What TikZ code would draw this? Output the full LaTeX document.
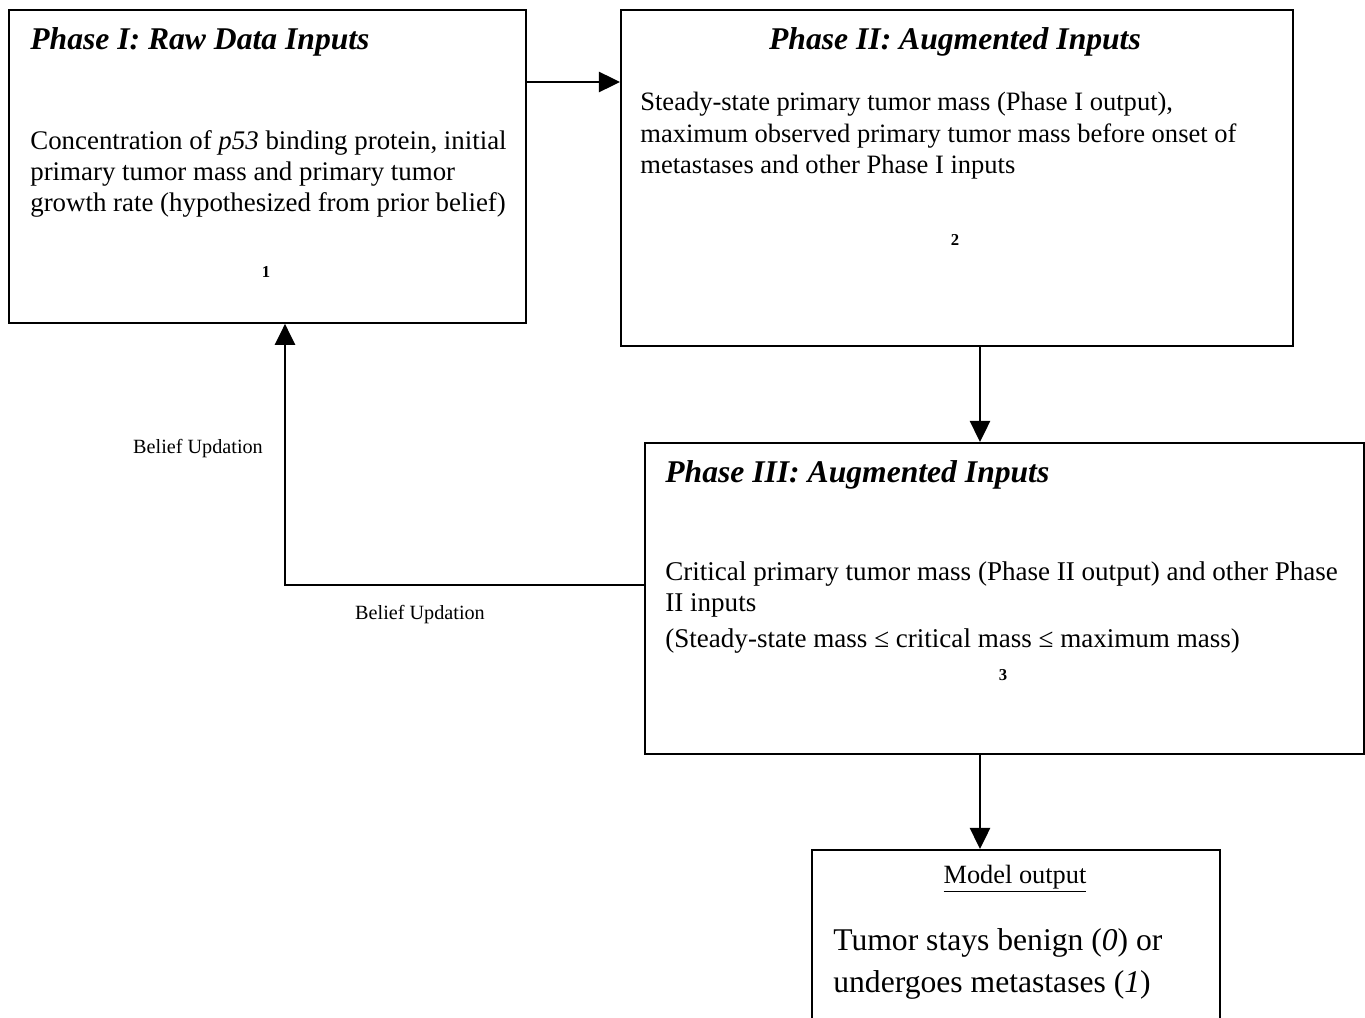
\documentclass[tikz,border=0pt]{standalone}
\usepackage{fontspec}
\setmainfont{Liberation Serif}
\usepackage{tikz}
\usetikzlibrary{calc,arrows.meta,positioning}

\begin{document}
\begin{tikzpicture}[x=0.02cm,y=-0.02cm]

\tikzset{phasebox/.style={draw,line width=1.1pt,anchor=north west,inner sep=0pt,shape=rectangle},
phasetitle/.style={font=\fontsize{18}{21}\selectfont\bfseries\itshape,inner sep=0pt},
phasetext/.style={font=\fontsize{15.3}{17.6}\selectfont,align=left,anchor=north west,inner sep=0pt},
boxnum/.style={font=\fontsize{9.5}{11}\selectfont\bfseries,inner sep=0pt,anchor=base},
beliefnote/.style={font=\fontsize{11.5}{13}\selectfont,inner sep=0pt,anchor=base},
flowarrow/.style={line width=1.1pt,-{Triangle[length=12pt,width=11.5pt]}}}

\useasboundingbox (0,0) rectangle (1365,1017);
\clip (0,0) rectangle (1365,1017);

% Boxes
\node[phasebox,minimum width=10.34cm,minimum height=6.26cm] (phaseI) at (8,9) {};
\node[phasebox,minimum width=13.44cm,minimum height=6.72cm] (phaseII) at (620,9) {};
\node[phasebox,minimum width=14.38cm,minimum height=6.22cm] (phaseIII) at (644,442) {};
\node[phasebox,minimum width=8.16cm,minimum height=4.2cm] (output) at (811,849) {};

% Phase I
\node[phasetitle,anchor=base west] (titleI) at (30,50) {Phase I: Raw Data Inputs};
\node[phasetext] (textI) at (30,130) {Concentration of \textit{p53} binding protein, initial\\primary tumor mass and primary tumor\\growth rate (hypothesized from prior belief)};
\node[boxnum] (numI) at (266,277) {1};

% Phase II
\node[phasetitle,anchor=base] (titleII) at (955,50) {Phase II: Augmented Inputs};
\node[phasetext,font=\fontsize{15.1}{17.9}\selectfont] (textII) at (640,92) {Steady-state primary tumor mass (Phase I output),\\maximum observed primary tumor mass before onset of\\metastases and other Phase I inputs};
\node[boxnum] (numII) at (955,245) {2};

% Phase III
\node[phasetitle,anchor=base west] (titleIII) at (665,482) {Phase III: Augmented Inputs};
\node[phasetext,font=\fontsize{15.4}{17.6}\selectfont] (textIII) at (665,561) {Critical primary tumor mass (Phase II output) and other Phase\\II inputs\\[3pt](Steady-state mass ≤ critical mass ≤ maximum mass)};
\node[boxnum] (numIII) at (1003,680) {3};

% Output
\node[font=\fontsize{15}{17}\selectfont,inner sep=0pt,anchor=base] (outtitle) at (1015,883) {\underline{Model output}};
\node[phasetext,font=\fontsize{18}{23.8}\selectfont] (outtext) at (833,928) {Tumor stays benign (\textit{0}) or\\undergoes metastases (\textit{1})};

% Belief labels
\node[beliefnote] (beliefA) at (198,453) {Belief Updation};
\node[beliefnote] (beliefB) at (420,619) {Belief Updation};

% Edges
\coordinate (a12) at (0,82);
\coordinate (xmid) at (980,0);
\coordinate (fb) at (285,585);
\draw[flowarrow] (phaseI.east |- a12) -- (phaseII.west |- a12);
\draw[flowarrow] (phaseII.south -| xmid) -- (phaseIII.north -| xmid);
\draw[flowarrow] (phaseIII.south -| xmid) -- (output.north -| xmid);
\draw[flowarrow] (phaseIII.west |- fb) -- (fb) -- (phaseI.south -| fb);

\end{tikzpicture}
\end{document}
